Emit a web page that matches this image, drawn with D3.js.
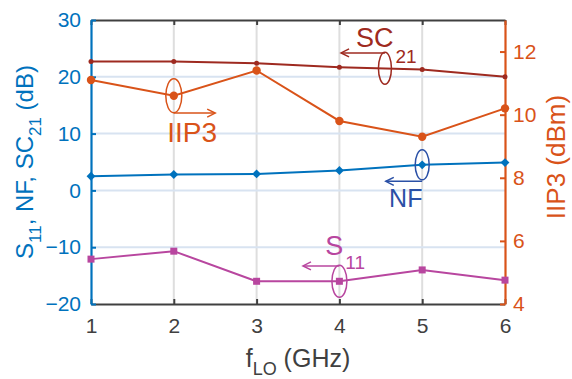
<!DOCTYPE html>
<html>
<head>
<meta charset="utf-8">
<script src="https://cdn.jsdelivr.net/npm/d3@7"></script>
<style>
  body { margin: 0; background: #fff; }
  svg text { font-family: "Liberation Sans", Arial, Helvetica, sans-serif; }
</style>
</head>
<body>
<svg id="chart" width="572" height="379"></svg>
<script>
// data
const fLO = [1, 2, 3, 4, 5, 6];
const sc21 = [22.7, 22.7, 22.4, 21.7, 21.3, 20.0];
const iip3 = [11.1, 10.6, 11.4, 9.8, 9.3, 10.2];
const nf = [2.5, 2.8, 2.9, 3.5, 4.5, 4.9];
const s11 = [-12.1, -10.7, -16.0, -16.0, -14.0, -15.8];
const leftTicks = [-20, -10, 0, 10, 20, 30];
const rightTicks = [4, 6, 8, 10, 12];

const blue = "#0072BD", orange = "#D95319", dark = "#404040";
const cSC = "#9e2a20", cS11 = "#b8469f", cNFnote = "#2a50a6";

const margin = {top: 20, right: 67, bottom: 75, left: 91};
const width = 572 - margin.left - margin.right;
const height = 379 - margin.top - margin.bottom;

const svg = d3.select("#chart");
const g = svg.append("g").attr("transform", `translate(${margin.left},${margin.top})`);

const x = d3.scaleLinear().domain([1, 6]).range([0, width]);
const yL = d3.scaleLinear().domain([-20, 30]).range([height, 0]);
const yR = d3.scaleLinear().domain([4, 13]).range([height, 0]);

// grid
g.selectAll(".vgrid").data(fLO.slice(1, -1)).enter().append("line")
  .attr("x1", d => x(d)).attr("x2", d => x(d))
  .attr("y1", 0).attr("y2", height)
  .attr("stroke", "#dedede").attr("stroke-width", 2);
g.selectAll(".hgrid").data(leftTicks.slice(1, -1)).enter().append("line")
  .attr("x1", 0).attr("x2", width)
  .attr("y1", d => yL(d)).attr("y2", d => yL(d))
  .attr("stroke", "#d8e3f1").attr("stroke-width", 2);

// axes
function styleAxis(sel, color, size) {
  sel.select(".domain").attr("stroke", color).attr("stroke-width", 2.2);
  sel.selectAll(".tick line").attr("stroke", color).attr("stroke-width", 2);
  sel.selectAll(".tick text").attr("fill", color).style("font-size", size + "px");
}

const xTop = g.append("g")
  .call(d3.axisTop(x).tickValues(fLO).tickSizeInner(-5).tickSizeOuter(0).tickFormat(""));
styleAxis(xTop, dark, 21);

const xBot = g.append("g").attr("transform", `translate(0,${height})`)
  .call(d3.axisBottom(x).tickValues(fLO).tickSizeInner(-5).tickSizeOuter(0).tickPadding(14).tickFormat(d3.format("d")));
styleAxis(xBot, dark, 21);

const axL = g.append("g")
  .call(d3.axisLeft(yL).tickValues(leftTicks).tickSizeInner(-5).tickSizeOuter(0).tickPadding(10));
styleAxis(axL, blue, 21);

const axR = g.append("g").attr("transform", `translate(${width},0)`)
  .call(d3.axisRight(yR).tickValues(rightTicks).tickSizeInner(-5).tickSizeOuter(0).tickPadding(8));
styleAxis(axR, orange, 21);

// axis labels
const labL = svg.append("text")
  .attr("transform", `translate(33,${margin.top + height / 2}) rotate(-90)`)
  .attr("text-anchor", "middle").attr("fill", blue).style("font-size", "24px");
labL.append("tspan").text("S");
labL.append("tspan").text("11").attr("dy", 8).style("font-size", "17px");
labL.append("tspan").text(", NF, SC").attr("dy", -8);
labL.append("tspan").text("21").attr("dy", 8).style("font-size", "17px");
labL.append("tspan").text(" (dB)").attr("dy", -8);

svg.append("text")
  .attr("transform", `translate(565,${margin.top + height / 2 - 5}) rotate(-90)`)
  .attr("text-anchor", "middle").attr("fill", orange).style("font-size", "26px")
  .text("IIP3 (dBm)");

const labX = svg.append("text")
  .attr("x", margin.left + width / 2).attr("y", 367)
  .attr("text-anchor", "middle").attr("fill", dark).style("font-size", "25px");
labX.append("tspan").text("f");
labX.append("tspan").text("LO").attr("dy", 8).style("font-size", "18px");
labX.append("tspan").text(" (GHz)").attr("dy", -8);

// series
const lineL = d3.line().x((d, i) => x(fLO[i])).y(d => yL(d));
const lineR = d3.line().x((d, i) => x(fLO[i])).y(d => yR(d));

function series(vals, gen, color) {
  g.append("path").datum(vals).attr("d", gen)
    .attr("fill", "none").attr("stroke", color).attr("stroke-width", 2);
}
series(sc21, lineL, cSC);
series(iip3, lineR, orange);
series(nf, lineL, blue);
series(s11, lineL, cS11);

g.selectAll(".msc").data(sc21).enter().append("circle")
  .attr("cx", (d, i) => x(fLO[i])).attr("cy", d => yL(d)).attr("r", 2.5).attr("fill", cSC);
g.selectAll(".miip").data(iip3).enter().append("circle")
  .attr("cx", (d, i) => x(fLO[i])).attr("cy", d => yR(d)).attr("r", 4.2).attr("fill", orange);
g.selectAll(".mnf").data(nf).enter().append("path")
  .attr("transform", (d, i) => `translate(${x(fLO[i])},${yL(d)})`)
  .attr("d", d3.symbol(d3.symbolDiamond2, 50)).attr("fill", blue);
g.selectAll(".ms11").data(s11).enter().append("rect")
  .attr("x", (d, i) => x(fLO[i]) - 3.5).attr("y", d => yL(d) - 3.5)
  .attr("width", 7).attr("height", 7).attr("fill", cS11);

// annotations: ellipse centre, arrow to, label position (data coordinates)
const notes = [
  {scale: yL, cx: 4.55, cy: 21.5, rx: 6.5, ry: 16, ax: 4.02, ay: 24.2, color: cSC,
   tx: 4.20, ty: 25.2, main: "SC", sub: "21", size: 27, shift: 16},
  {scale: yR, cx: 2, cy: 10.6, rx: 8, ry: 17, ax: 2.5, ay: 10.05, color: orange,
   tx: 1.92, ty: 9.13, main: "IIP3", sub: "", size: 28, shift: 0},
  {scale: yL, cx: 5, cy: 4.5, rx: 7, ry: 15, ax: 4.56, ay: 1.6, color: cNFnote,
   tx: 4.60, ty: -3.0, main: "NF", sub: "", size: 25, shift: 0},
  {scale: yL, cx: 4, cy: -16.0, rx: 7.5, ry: 16, ax: 3.56, ay: -13.3, color: cS11,
   tx: 3.83, ty: -11.4, main: "S", sub: "11", size: 27, shift: 14}
];

notes.forEach(n => {
  const ex = x(n.cx), ey = n.scale(n.cy);
  g.append("ellipse").attr("cx", ex).attr("cy", ey).attr("rx", n.rx).attr("ry", n.ry)
    .attr("fill", "none").attr("stroke", n.color).attr("stroke-width", 1.5);
  const sx = x(n.cx), sy = n.scale(n.ay), exA = x(n.ax);
  g.append("line").attr("x1", sx).attr("y1", sy).attr("x2", exA).attr("y2", sy)
    .attr("stroke", n.color).attr("stroke-width", 1.5);
  const dir = exA < sx ? 1 : -1;
  g.append("path")
    .attr("d", `M${exA + dir * 8},${sy - 4} L${exA},${sy} L${exA + dir * 8},${sy + 4}`)
    .attr("fill", "none").attr("stroke", n.color).attr("stroke-width", 1.5);
  const t = g.append("text").attr("x", x(n.tx)).attr("y", n.scale(n.ty))
    .attr("fill", n.color).style("font-size", n.size + "px");
  t.append("tspan").text(n.main);
  if (n.sub) t.append("tspan").text(n.sub).attr("dy", n.shift).attr("dx", 2).style("font-size", "19px");
});
</script>
</body>
</html>
